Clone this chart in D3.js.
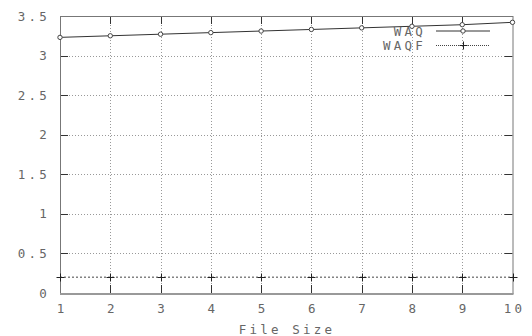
<html>
<head>
<script src="https://d3js.org/d3.v7.min.js"></script>
<style>
  body { margin: 0; background: #fff; }
  text { font-family: "DejaVu Sans Mono", monospace; font-size: 12.5px; fill: #666; letter-spacing: 3.2px; }
</style>
</head>
<body>
<div id="chartContainer"></div>
<script>
  // data
  var fileSize = [1, 2, 3, 4, 5, 6, 7, 8, 9, 10];
  var waq  = [3.23, 3.25, 3.27, 3.29, 3.31, 3.33, 3.35, 3.37, 3.39, 3.42];
  var waqf = [0.2, 0.2, 0.2, 0.2, 0.2, 0.2, 0.2, 0.2, 0.2, 0.2];
  var yTicks = [0, 0.5, 1, 1.5, 2, 2.5, 3, 3.5];
  var yLabels = ["0", "0.5", "1", "1.5", "2", "2.5", "3", "3.5"];

  var W = 532, H = 336;
  var pL = 60, pR = 512.5, pT = 16, pB = 293;

  var svg = d3.select("#chartContainer").append("svg")
    .attr("width", W).attr("height", H);

  var x = d3.scaleLinear().domain([1, 10]).range([pL, pR]);
  var y = d3.scaleLinear().domain([0, 3.5]).range([pB, pT]);

  // grid (dotted)
  svg.selectAll(".gx").data(fileSize.slice(1, -1)).enter().append("line")
    .attr("x1", function (d) { return Math.round(x(d)) + 0.5; }).attr("x2", function (d) { return Math.round(x(d)) + 0.5; })
    .attr("y1", pT).attr("y2", pB)
    .style("stroke", "#999").style("stroke-dasharray", "1,2");
  svg.selectAll(".gy").data(yTicks.slice(1, -1)).enter().append("line")
    .attr("x1", pL).attr("x2", pR)
    .attr("y1", function (d) { return Math.round(y(d)) + 0.5; })
    .attr("y2", function (d) { return Math.round(y(d)) + 0.5; })
    .style("stroke", "#999").style("stroke-dasharray", "1,2");

  // tick marks, inward on all four sides
  var tk = 8;
  fileSize.slice(1, -1).forEach(function (d) {
    var xx = Math.round(x(d)) + 0.5;
    svg.append("line").attr("x1", xx).attr("x2", xx).attr("y1", pB).attr("y2", pB - tk).style("stroke", "#333");
    svg.append("line").attr("x1", xx).attr("x2", xx).attr("y1", pT).attr("y2", pT + tk).style("stroke", "#333");
  });
  yTicks.slice(1, -1).forEach(function (d) {
    var yy = Math.round(y(d)) + 0.5;
    svg.append("line").attr("x1", pL).attr("x2", pL + tk).attr("y1", yy).attr("y2", yy).style("stroke", "#333");
    svg.append("line").attr("x1", pR).attr("x2", pR - tk).attr("y1", yy).attr("y2", yy).style("stroke", "#333");
  });

  // frame
  svg.append("rect").attr("x", pL + 0.5).attr("y", pT + 0.5)
    .attr("width", pR - pL).attr("height", pB - pT)
    .style("fill", "none").style("stroke", "#777");
  svg.append("line").attr("x1", pL).attr("x2", pR + 1).attr("y1", pB + 1).attr("y2", pB + 1)
    .style("stroke", "#999").style("stroke-width", 2);

  // tick labels
  svg.selectAll(".yl").data(yTicks).enter().append("text")
    .attr("x", 50).attr("y", function (d) { return y(d) + 4.5; })
    .attr("text-anchor", "end")
    .text(function (d, i) { return yLabels[i]; });
  svg.selectAll(".xl").data(fileSize).enter().append("text")
    .attr("x", function (d) { return x(d) + 2; }).attr("y", 313)
    .attr("text-anchor", "middle")
    .text(function (d) { return d; });

  svg.append("text").attr("x", 287).attr("y", 334).attr("text-anchor", "middle").text("File Size");

  // WAQF series: dotted line with + markers
  var line = d3.line().x(function (d, i) { return x(fileSize[i]); }).y(function (d) { return y(d); });
  svg.append("path").datum(waqf).attr("d", line)
    .style("fill", "none").style("stroke", "#444").style("stroke-dasharray", "2,2");
  svg.selectAll(".pf").data(waqf).enter().append("path")
    .attr("transform", function (d, i) { return "translate(" + (Math.round(x(fileSize[i])) + 0.5) + "," + (Math.round(y(d)) + 0.5) + ")"; })
    .attr("d", "M-4,0H4M0,-4V4").style("stroke", "#222");

  // WAQ series: solid line with small circle markers
  svg.append("path").datum(waq).attr("d", line)
    .style("fill", "none").style("stroke", "#333");
  svg.selectAll(".pq").data(waq).enter().append("circle")
    .attr("cx", function (d, i) { return x(fileSize[i]); })
    .attr("cy", function (d) { return y(d); })
    .attr("r", 2.2).style("fill", "#fff").style("stroke", "#444");

  // legend
  var lg = [{ name: "WAQ", y: 31 }, { name: "WAQF", y: 45 }];
  svg.selectAll(".lt").data(lg).enter().append("text")
    .attr("x", 426).attr("y", function (d) { return d.y + 4.5; })
    .attr("text-anchor", "end").text(function (d) { return d.name; });
  svg.append("line").attr("x1", 436).attr("x2", 490).attr("y1", 31).attr("y2", 31).style("stroke", "#333");
  svg.append("circle").attr("cx", 463).attr("cy", 31).attr("r", 2.2).style("fill", "#fff").style("stroke", "#444");
  svg.append("line").attr("x1", 436).attr("x2", 490).attr("y1", 45.5).attr("y2", 45.5)
    .style("stroke", "#444").style("stroke-dasharray", "1,1");
  svg.append("path").attr("transform", "translate(463.5,45.5)").attr("d", "M-4,0H4M0,-4V4").style("stroke", "#222");
</script>
</body>
</html>
